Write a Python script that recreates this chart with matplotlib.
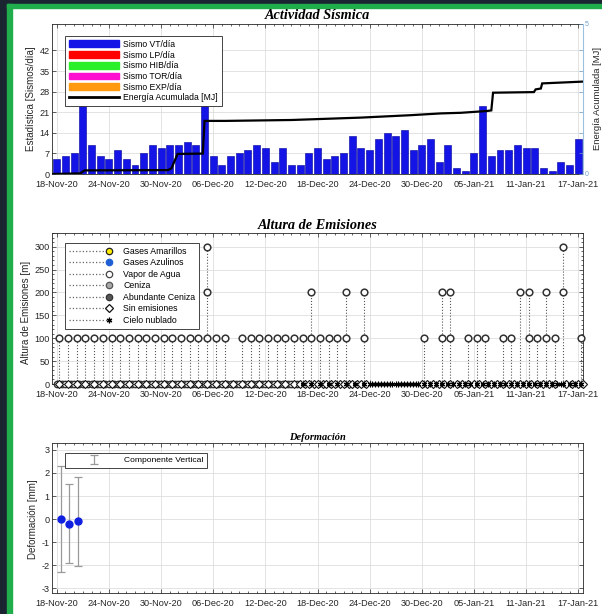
import numpy as np
import matplotlib
matplotlib.use('Agg')
import matplotlib.pyplot as plt
import matplotlib.dates as mdates
from matplotlib.ticker import FixedLocator, MultipleLocator
from matplotlib.patches import Patch, Rectangle
from matplotlib.lines import Line2D
from matplotlib.legend_handler import HandlerLine2D

plt.rcParams['font.family'] = ['Liberation Sans', 'DejaVu Sans']
plt.rcParams['axes.unicode_minus'] = False

# ---------------- data ----------------
start_date = '2020-11-18'
tick_every_days = 6
n_days = 61

vt_per_day = [5, 6, 7, 28, 10, 6, 5, 8, 5, 3,
              7, 10, 9, 10, 10, 11, 10, 33, 6, 3,
              6, 7, 8, 10, 9, 4, 9, 3, 3, 7,
              9, 5, 6, 7, 13, 9, 8, 12, 14, 13,
              15, 8, 10, 12, 4, 10, 2, 1, 7, 23,
              6, 8, 8, 10, 9, 9, 2, 1, 4, 3, 12]

# cumulative energy [MJ] (time in days from start_date)
energy_day = [-0.4, 2.7, 3.2, 12.8, 13.2, 13.9, 16.8, 17.0, 19.4, 27.0, 35.0,
              40.7, 44.2, 46.5, 49.5, 50.0, 50.2, 54.9, 55.1, 55.7, 55.85, 60.55]
energy_mj = [0.0, 0.02, 0.12, 0.13, 0.19, 0.67, 0.68, 1.77, 1.77, 1.80, 1.88,
             1.96, 2.02, 2.04, 2.10, 2.12, 2.71, 2.73, 2.82, 2.85, 3.02, 3.08]

# emissions: days (from start) with vapour columns at each height [m]
em100_days = [0, 1, 2, 3, 4, 5, 6, 7, 8, 9, 10, 11, 12, 13, 14, 15, 16, 17, 18, 19,
              21, 22, 23, 24, 25, 26, 27, 28, 29, 30, 31, 32, 33, 35,
              42, 44, 45, 47, 48, 49, 51, 52, 54, 55, 56, 57, 60]
em200_days = [17, 29, 33, 35, 44, 45, 53, 54, 56, 58]
em300_days = [17, 58]
# observations at 0 m per day (o = vapour, d = sin emisiones, * = cielo nublado)
zero_row = ("odo odo odo odo odo odo odo odo odo odo "
            "odo odo odo odo odo odo odo odo odo odo "
            "odo odo odo odo odo odo odo odo d*d d*d "
            "d*d d*d d*d d*d d*d d*d *** *** *** *** "
            "*** *** d*d *d* d*d *d* d*d *d* d*d *d* "
            "d*d *d* d*d *d* d*d *d* d*d *d* **d *d* d*d").split()
obs_offsets = [0.0, 0.3, 0.6]

# deformation
def_day = [0.45, 1.45, 2.45]
def_mm = [0.0, -0.2, -0.1]
def_err = [2.3, 1.72, 1.91]

# ---------------- figure ----------------
W, H = 602, 614
fig = plt.figure(figsize=(W / 100, H / 100), dpi=100, facecolor='white')

# frame decoration
dark = '#1b2531'
green = '#1fae4b'
fig.patches.append(Rectangle((0, 1 - 4 / H), 1, 4 / H, transform=fig.transFigure, color=dark, zorder=-5))
fig.patches.append(Rectangle((0, 0), 7 / W, 1, transform=fig.transFigure, color=dark, zorder=-5))
fig.patches.append(Rectangle((7 / W, 1 - 8 / H), 1, 4 / H, transform=fig.transFigure, color=green, zorder=-4))
fig.patches.append(Rectangle((7 / W, 0), 5 / W, 1 - 4 / H, transform=fig.transFigure, color=green, zorder=-4))


def axrect(x0, y0, x1, y1):
    return [x0 / W, 1 - y1 / H, (x1 - x0) / W, (y1 - y0) / H]


base = mdates.datestr2num(start_date)
day_idx = np.arange(n_days)
tick_col = '#262626'
LBL = 6.6


def style_axes(ax, right=True, yminor=None):
    ax.set_xlim(base - 0.55, base + n_days - 1 + 0.55)
    ax.xaxis.set_major_locator(FixedLocator(base + np.arange(0, n_days, tick_every_days)))
    ax.xaxis.set_minor_locator(FixedLocator(base + day_idx))
    ax.xaxis.set_major_formatter(mdates.DateFormatter('%d-%b-%y'))
    ax.tick_params(axis='both', which='both', direction='in', top=True, right=right,
                   labelsize=LBL, colors=tick_col)
    ax.tick_params(axis='x', which='major', pad=4.3)
    ax.tick_params(axis='y', which='major', pad=1.5)
    ax.tick_params(which='major', length=3, width=0.5)
    ax.tick_params(which='minor', length=1.6, width=0.5)
    if yminor:
        ax.yaxis.set_minor_locator(MultipleLocator(yminor))
    ax.grid(True, which='major', color='#dedede', lw=0.6)
    ax.set_axisbelow(True)
    for s in ax.spines.values():
        s.set_linewidth(0.6)
        s.set_color(tick_col)


title_kw = dict(family='Liberation Serif', weight='bold', style='italic', color='black',
                ha='center', va='center')
ylab_kw = dict(rotation=90, ha='center', va='center', fontsize=7, color=tick_col)

# ---------------- seismic activity ----------------
ax1 = fig.add_axes(axrect(52, 24, 583, 174))
style_axes(ax1, right=False)
ax1.bar(base + day_idx, vt_per_day, width=0.8, color='#1414e6', edgecolor='#00009a', linewidth=0.4)
ax1.set_ylim(0, 51)
ax1.set_yticks(np.arange(0, 43, 7))

ax2 = ax1.twinx()
ax2.set_ylim(0, 5)
light_blue = '#6f9fcc'
r_ticks = list(np.arange(0, 43, 7) * 5 / 51) + [5]
ax2.set_yticks(r_ticks)
ax2.set_yticklabels(['0', '', '', '', '', '', '', '5'])
ax2.tick_params(axis='y', direction='in', length=3, width=0.5, colors=light_blue, labelsize=5, pad=1.5)
for s in ax2.spines.values():
    s.set_visible(False)
ax2.spines['right'].set_visible(True)
ax2.spines['right'].set_color('#9cc0e0')
ax2.spines['right'].set_linewidth(0.8)
ax2.plot(base + np.array(energy_day), energy_mj, color='black', lw=1.6, solid_joinstyle='miter')

leg_handles = [Patch(facecolor='#1414e6', edgecolor='#1414e6'),
               Patch(facecolor='#ff0000', edgecolor='#ff0000'),
               Patch(facecolor='#2af02a', edgecolor='#2af02a'),
               Patch(facecolor='#ff10d0', edgecolor='#ff10d0'),
               Patch(facecolor='#ff9a10', edgecolor='#ff9a10'),
               Line2D([], [], color='black', lw=2)]
leg_labels = ['Sismo VT/día', 'Sismo LP/día', 'Sismo HIB/día', 'Sismo TOR/día',
              'Sismo EXP/día', 'Energía Acumulada [MJ]']
lg = ax2.legend(leg_handles, leg_labels, loc='upper left', bbox_to_anchor=(0.0245, 0.92),
                borderaxespad=0, fontsize=6.2, handlelength=5.8, handleheight=0.85,
                handletextpad=0.5, labelspacing=0.2, borderpad=0.45, fancybox=False,
                framealpha=1, edgecolor='#262626')
lg.get_frame().set_linewidth(0.6)
lg.set_zorder(10)

fig.text(317.5 / W, 1 - 15.5 / H, 'Actividad Sísmica', fontsize=10.3, **title_kw)
fig.text(31 / W, 1 - 99 / H, 'Estadística [Sismos/día]', **ylab_kw)
fig.text(597 / W, 1 - 99 / H, 'Energía Acumulada [MJ]', **dict(ylab_kw, fontsize=6.8))

# ---------------- emissions ----------------
ax_em = fig.add_axes(axrect(52, 233, 583, 384))
style_axes(ax_em, yminor=10)
ax_em.set_ylim(0, 330)
ax_em.set_yticks(np.arange(0, 301, 50))

circ_kw = dict(ls='none', marker='o', ms=4.8, mfc='white', mec='#333333', mew=1.1, clip_on=False, zorder=4)
# stems
stem_top = {}
for lvl, days in ((100, em100_days), (200, em200_days), (300, em300_days)):
    for d in days:
        stem_top[d] = max(stem_top.get(d, 0), lvl)
stem_days = sorted(stem_top)
ax_em.vlines(base + np.array(stem_days) + obs_offsets[1], 0, [stem_top[d] for d in stem_days],
             linestyles=':', colors='#555555', lw=0.8, zorder=3)
for lvl, days in ((100, em100_days), (200, em200_days), (300, em300_days)):
    ax_em.plot(base + np.array(days) + obs_offsets[1], [lvl] * len(days), **circ_kw)

# zero row
mk_style = {'o': dict(marker='o', ms=4.6, mfc='white', mec='#333333', mew=1.0),
            'd': dict(marker='D', ms=3.8, mfc='white', mec='#111111', mew=0.8),
            '*': dict(marker=(6, 2, 0), ms=4.0, mfc='black', mec='black', mew=0.8)}
for code in 'od*':
    xs = [base + d + obs_offsets[k] for d, s in enumerate(zero_row) for k, c in enumerate(s) if c == code]
    ax_em.plot(xs, [0] * len(xs), ls='none', clip_on=False, zorder=5, **mk_style[code])


class StemHandler(HandlerLine2D):
    def create_artists(self, *args, **kwargs):
        arts = super().create_artists(*args, **kwargs)
        for a in arts:
            a.set_markevery([2])
        return arts


lkw = dict(ls=':', color='#666666', lw=0.9, ms=4.6, mew=0.9)
em_handles = [Line2D([], [], marker='o', mfc='#ffee00', mec='#222222', **lkw),
              Line2D([], [], marker='o', mfc='#1f5fd6', mec='#1f5fd6', **lkw),
              Line2D([], [], marker='o', mfc='white', mec='#444444', **lkw),
              Line2D([], [], marker='o', mfc='#a8a8a8', mec='#555555', **lkw),
              Line2D([], [], marker='o', mfc='#555555', mec='#333333', **lkw),
              Line2D([], [], marker='D', mfc='white', mec='#111111', **dict(lkw, ms=3.8)),
              Line2D([], [], marker=(6, 2, 0), mfc='black', mec='black', **dict(lkw, ms=4.0))]
em_labels = ['Gases Amarillos', 'Gases Azulinos', 'Vapor de Agua', 'Ceniza',
             'Abundante Ceniza', 'Sin emisiones', 'Cielo nublado']
lg2 = ax_em.legend(em_handles, em_labels, loc='upper left', bbox_to_anchor=(0.0245, 0.934),
                   borderaxespad=0, fontsize=6.3, numpoints=1, handlelength=4.6,
                   handletextpad=1.6, labelspacing=0.28, borderpad=0.45, fancybox=False,
                   framealpha=1, edgecolor='#262626',
                   handler_map={Line2D: StemHandler()})
lg2.get_frame().set_linewidth(0.6)
lg2.set_zorder(10)

fig.text(317.5 / W, 1 - 226 / H, 'Altura de Emisiones', fontsize=10.3, **title_kw)
fig.text(26 / W, 1 - 312 / H, 'Altura de Emisiones [m]', **ylab_kw)

# ---------------- deformation ----------------
ax_def = fig.add_axes(axrect(52, 443, 583, 593))
style_axes(ax_def)
ax_def.set_ylim(-3.2, 3.3)
ax_def.set_yticks(np.arange(-3, 4, 1))
eb = ax_def.errorbar(base + np.array(def_day), def_mm, yerr=def_err, fmt='none',
                     ecolor='#9a9a9a', elinewidth=0.9, capsize=3, capthick=0.9, zorder=3)
ax_def.plot(base + np.array(def_day), def_mm, ls='none', marker='o', ms=5, mfc='#1020e0',
            mec='#1020e0', zorder=4)
lg3 = ax_def.legend([eb], ['Componente Vertical'], loc='upper left', bbox_to_anchor=(0.0245, 0.933),
                    borderaxespad=0, fontsize=6.1, handlelength=6.0, handletextpad=0.6,
                    borderpad=0.4, fancybox=False, framealpha=1, edgecolor='#262626')
lg3.get_frame().set_linewidth(0.6)

fig.text(317.5 / W, 1 - 437 / H, 'Deformación', fontsize=7.5, **title_kw)
fig.text(33 / W, 1 - 519 / H, 'Deformación [mm]', **ylab_kw)

fig.savefig('out.png', dpi=100, facecolor='white')
